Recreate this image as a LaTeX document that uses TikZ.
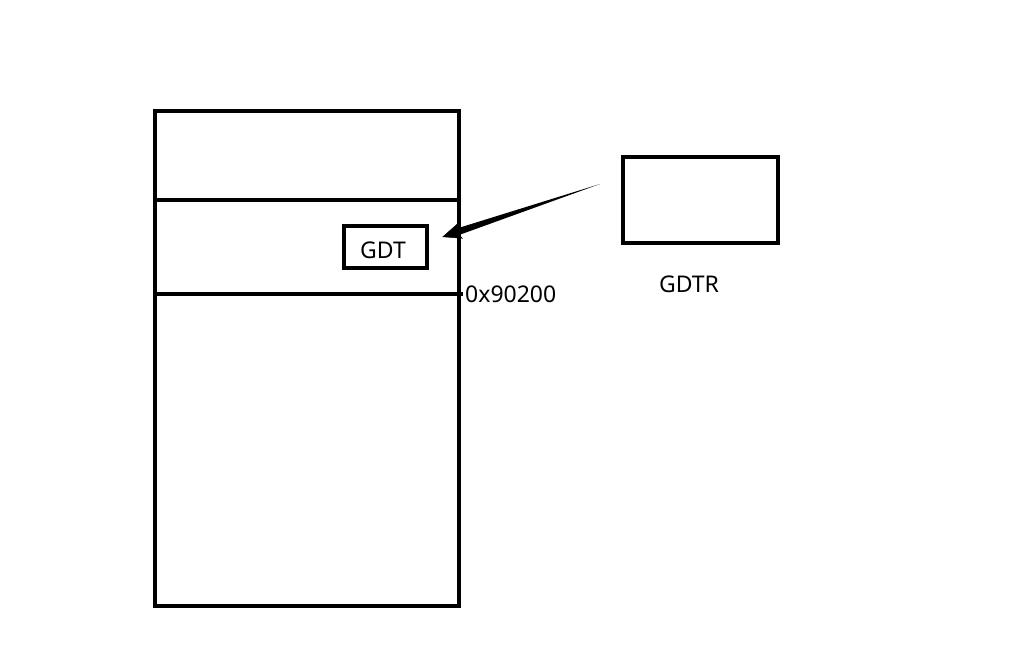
\documentclass[tikz,border=0pt]{standalone}
\usepackage{fontspec}
\setmainfont{Noto Sans}
\usetikzlibrary{arrows.meta,calc,positioning}

\begin{document}
\begin{tikzpicture}[x=1pt,y=-1pt,
    box/.style={draw, line width=4.5pt, inner sep=0pt},
    lbl/.style={font=\fontsize{23}{26}\selectfont, inner sep=1pt}]
    \useasboundingbox[fill=white] (0,0) rectangle (1024,651);

    % Memory column
    \node[box, minimum width=304pt, minimum height=495pt] (mem) at (307,358.5) {};
    \draw[line width=4.5pt] (mem.west |- 0,200) -- (mem.east |- 0,200);
    \draw[line width=4.5pt] (mem.west |- 0,294) -- ($(mem.east |- 0,294)+(2,0)$);

    % GDT inside the memory
    \node[box, minimum width=83pt, minimum height=42pt] (gdt) at (385.5,247) {};
    \node[lbl] (gdtlabel) at (383,250) {GDT};
    \node[lbl, anchor=west] (addr) at (464,294) {0x90200};

    % Register
    \node[box, minimum width=155pt, minimum height=86pt] (gdtr) at (700.5,200) {};
    \node[lbl] (gdtrlabel) at (689,284) {GDTR};

    % Tapered pointer
    \coordinate (tail) at (600,184);
    \coordinate (tip) at ($(gdt.east)+(13,-10)$);
    \coordinate (neck) at ($(tip)!14pt!(tail)$);
    \fill (tail) -- ($(neck)!3.5pt!90:(tail)$) -- ($(neck)!3.5pt!-90:(tail)$) -- cycle;
    \draw[line width=0.5pt, -{Stealth[length=19pt,width=16pt,inset=4pt]}] (neck) -- (tip);
\end{tikzpicture}
\end{document}
